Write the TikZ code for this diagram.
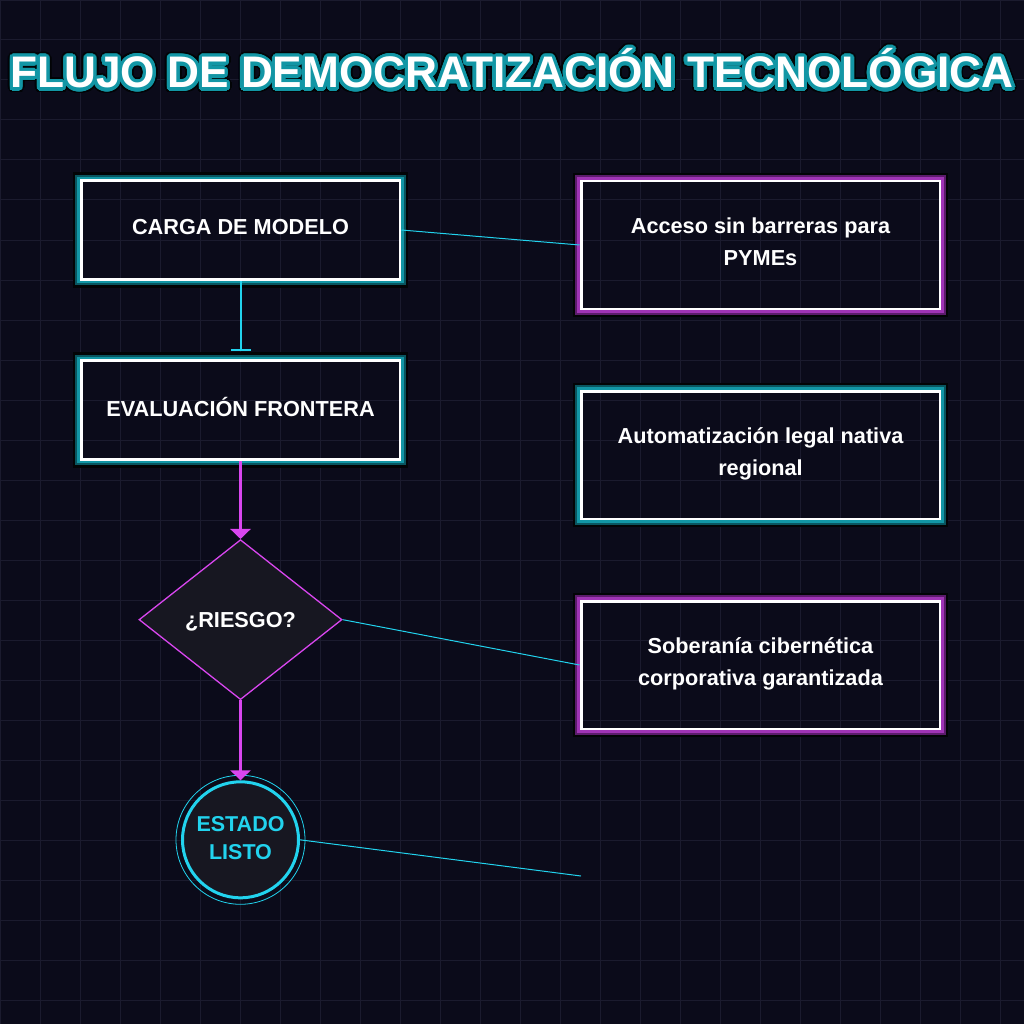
\documentclass[tikz,border=0pt]{standalone}
\usepackage{fontspec}
\setmainfont{Liberation Sans}
\usepackage[copies]{contour}
\usepackage{tikz}
\usetikzlibrary{arrows.meta, positioning, shapes.geometric}
\definecolor{bgcolor}{RGB}{11,11,26}
\definecolor{gridcolor}{RGB}{27,27,46}
\definecolor{shapefill}{RGB}{23,23,33}
\definecolor{cyanline}{RGB}{34,211,238}
\definecolor{magline}{RGB}{217,70,239}
\definecolor{glowteal}{RGB}{18,150,165}
\definecolor{deepteal}{RGB}{9,85,95}
\definecolor{glowmag}{RGB}{160,52,182}
\definecolor{deepmag}{RGB}{92,28,108}
\definecolor{edgeblack}{RGB}{2,4,6}
\contournumber{32}
\newcommand{\boxfont}{\bfseries\fontsize{21.7}{32}\selectfont}
\newcommand{\ringfont}{\bfseries\fontsize{21.5}{27.5}\selectfont}
\newcommand{\glowtitle}[1]{\rlap{\contourlength{5pt}\contour{edgeblack}{#1}}\contourlength{3.2pt}\contour{glowteal}{#1}}

\begin{document}
\begin{tikzpicture}[x=1pt, y=-1pt,
    box/.style={draw=white, line width=3pt, minimum width=319pt, minimum height=99pt, align=center, text=white, font=\boxfont, text depth=7pt},
    note/.style={box, minimum width=359pt, minimum height=128pt},
    check/.style={diamond, draw=magline, line width=1.3pt, fill=shapefill, minimum width=203pt, minimum height=160pt, aspect=1.27, inner sep=0pt, text=white, font=\boxfont, text depth=0pt},
    done/.style={circle, draw=cyanline, line width=3pt, fill=shapefill, minimum size=116pt, inner sep=0pt, align=center, text=cyanline, font=\ringfont, text depth=4pt},
    link/.style={cyanline, line width=1pt},
    flow/.style={magline, line width=2.7pt, -{Triangle[width=20pt, length=10pt]}},
    hold/.style={cyanline, line width=2pt, -{Bar[width=20pt]}, shorten >=8pt},
    node distance=78pt
  ]
  \useasboundingbox (0,0) rectangle (1024,1024);
  \fill[bgcolor] (0,0) rectangle (1024,1024);
  \draw[gridcolor, line width=1pt, step=40pt] (0,1024) grid (1024,0);

  \node[anchor=base, text=white, font=\bfseries\fontsize{44.2}{50}\selectfont] (title) at (512,88) {\glowtitle{FLUJO DE DEMOCRATIZACIÓN TECNOLÓGICA}};

  % left column
  \node[box] (carga) at (240.5,230) {CARGA DE MODELO};
  \node[box, below=of carga] (evaluacion) {EVALUACIÓN FRONTERA};
  \node[check, below=of evaluacion] (riesgo) {¿RIESGO?};
  \node[done, below=80pt of riesgo] (listo) {ESTADO\\LISTO};

  % right column
  \node[note] (acceso) at (760.5,245) {Acceso sin barreras para\\PYMEs};
  \node[note, below=79pt of acceso] (automatizacion) {Automatización legal nativa\\regional};
  \node[note, below=79pt of automatizacion] (soberania) {Soberanía cibernética\\corporativa garantizada};

  % glow frames
  \foreach \n/\c in {carga/teal, evaluacion/teal, acceso/mag, automatizacion/teal, soberania/mag} {
    \draw[edgeblack, line width=2.4pt] ([shift={(-5.4pt,5.4pt)}]\n.north west) rectangle ([shift={(5.4pt,-5.4pt)}]\n.south east);
    \draw[deep\c, line width=2.2pt] ([shift={(-3.3pt,3.3pt)}]\n.north west) rectangle ([shift={(3.3pt,-3.3pt)}]\n.south east);
    \draw[glow\c, line width=2.4pt] ([shift={(-1.15pt,1.15pt)}]\n.north west) rectangle ([shift={(1.15pt,-1.15pt)}]\n.south east);
  }
  \draw[link, line width=0.8pt] (listo) circle[radius=64.5pt];

  \draw[hold] (carga) -- (evaluacion);
  \draw[flow] (evaluacion) -- (riesgo);
  \draw[flow] (riesgo) -- (listo);

  \coordinate (tail) at (581,876);
  \draw[link] (carga.east) -- (acceso.west);
  \draw[link] (riesgo.east) -- (soberania.west);
  \draw[link] (listo.east) -- (tail);
\end{tikzpicture}
\end{document}
